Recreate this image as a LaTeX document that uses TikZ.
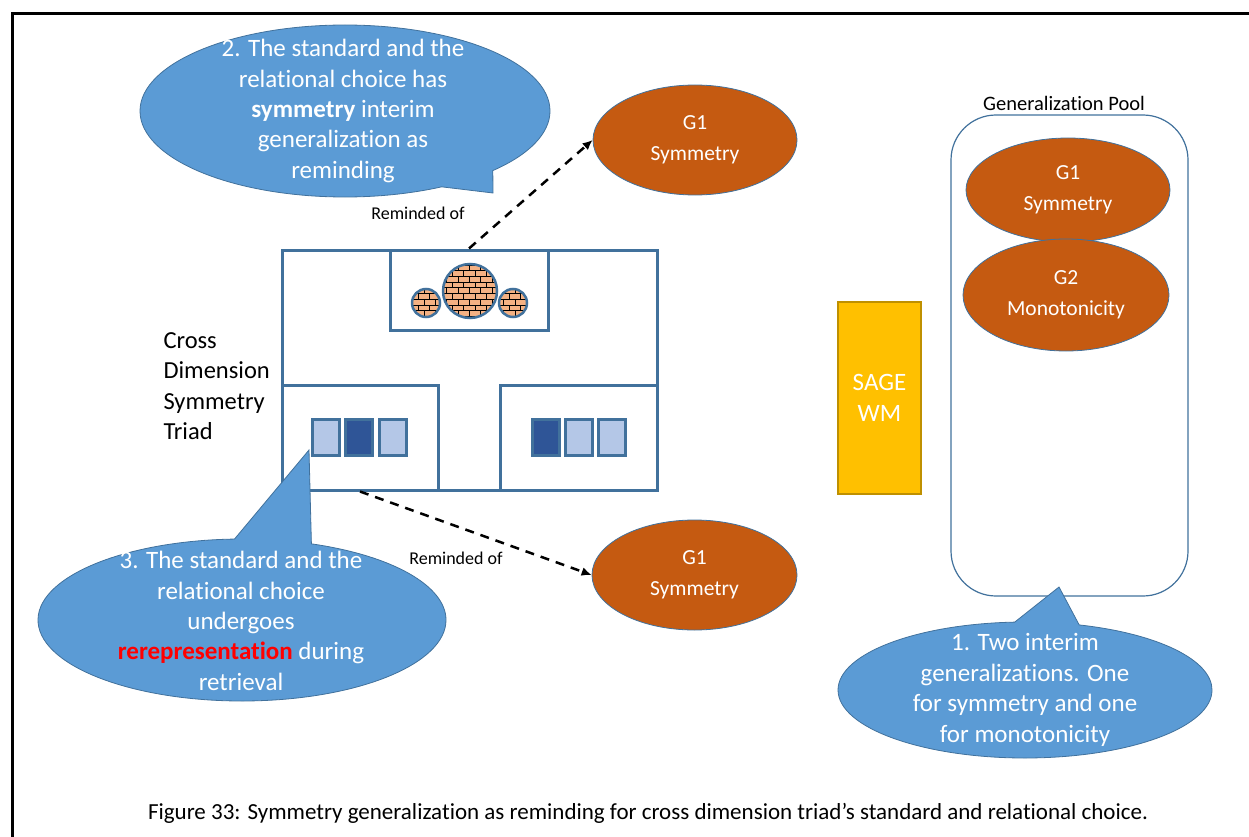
\documentclass[tikz,border=0pt]{standalone}
\usepackage{fontspec}
\setmainfont{Carlito}[Ligatures=NoCommon]
\usetikzlibrary{shapes.geometric,shapes.callouts,patterns,arrows.meta}

\definecolor{callblue}{HTML}{5B9BD5}
\definecolor{edgeblue}{HTML}{41719C}
\definecolor{rust}{HTML}{C55A11}
\definecolor{gold}{HTML}{FFC000}
\definecolor{goldedge}{HTML}{BF9000}
\definecolor{lightsq}{HTML}{B4C7E7}
\definecolor{darksq}{HTML}{2F5597}
\definecolor{brickbg}{HTML}{F4B183}

\begin{document}
\begin{tikzpicture}[x=1pt,y=-1pt,
    bubble/.style={ellipse callout, fill=callblue, draw=edgeblue, line width=0.8pt, inner sep=0pt},
    bubbletext/.style={text=white, align=center, font=\fontsize{25}{30.4}\selectfont},
    gen/.style={ellipse, fill=rust, draw=edgeblue, line width=0.8pt, inner sep=0pt, text=white, align=center, font=\fontsize{21.5}{31}\selectfont},
    triadbox/.style={draw=edgeblue, line width=3pt, inner sep=0pt},
    brick/.style={draw=edgeblue, line width=2.5pt, preaction={fill=brickbg}, pattern=bricks, pattern color=black},
    lightbox/.style={draw=edgeblue, line width=2.5pt, fill=lightsq, minimum width=27, minimum height=36, inner sep=0pt},
    darkbox/.style={lightbox, fill=darksq},
    remind/.style={line width=2.5pt, dash pattern=on 9pt off 7pt, -{Latex[length=10pt,width=9pt]}},
    lbl/.style={font=\fontsize{18}{20}\selectfont}
  ]
  \useasboundingbox (0,0) rectangle (1249,837);
  \draw[line width=3pt] (12,837) -- (12,14) -- (1249,14);

  % the triad
  \node[triadbox, minimum width=375, minimum height=240] (triad) at (469.5,370) {};
  \node[triadbox, minimum width=158, minimum height=80] (probe) at (469,290) {};
  \node[triadbox, minimum width=156, minimum height=105] (stdbox) at (360,437.5) {};
  \node[triadbox, minimum width=157, minimum height=105] (choicebox) at (578.5,437.5) {};
  \draw[brick] (470,291) circle (27);
  \draw[brick] (426,303) circle (14);
  \draw[brick] (513,303) circle (14);
  \foreach \x/\s in {326/lightbox, 359/darkbox, 393/lightbox, 546/darkbox, 579/lightbox, 612/lightbox}
    \node[\s] (sq\x) at (\x,437.5) {};
  \node[align=left, anchor=west, font=\fontsize{24.5}{30.5}\selectfont] (triadname) at (160,386) {Cross\\Dimension\\Symmetry\\Triad};

  % reminded generalizations
  \node[gen, minimum width=204, minimum height=110] (g1top) at (695,140) {G1\\Symmetry};
  \node[gen, minimum width=205, minimum height=110] (g1bot) at (694.5,575) {G1\\Symmetry};
  \draw[remind] (probe.north) -- (g1top.west);
  \draw[remind] (stdbox.south) -- (g1bot.west);
  \node[lbl] (rem1) at (418,213) {Reminded of};
  \node[lbl] (rem2) at (456,558) {Reminded of};

  % working memory and pool
  \node[draw=goldedge, fill=gold, line width=1.5pt, minimum width=83, minimum height=192, text=white, align=center, font=\fontsize{25}{31}\selectfont] (sage) at (879.5,398) {SAGE\\WM};
  \node[draw=edgeblue, rounded corners=45, line width=1.2pt, minimum width=237, minimum height=481] (pool) at (1069.5,355.5) {};
  \node[font=\fontsize{20.5}{22}\selectfont] (poolname) at (1064,103) {Generalization Pool};
  \node[gen, minimum width=204, minimum height=104] (g1pool) at (1068,190) {G1\\Symmetry};
  \node[gen, minimum width=206, minimum height=112] (g2pool) at (1066,295) {G2\\Monotonicity};

  % callouts
  \node[bubble, minimum width=410, minimum height=172, callout absolute pointer={(493,193)}, callout pointer arc=18] (note2) at (345,111) {};
  \node[bubbletext] at (343,111) {2. The standard and the\\relational choice has\\\textbf{symmetry} interim\\generalization as\\reminding};
  \node[bubble, minimum width=408, minimum height=162, callout absolute pointer={(309,450)}, callout pointer arc=22] (note3) at (242,620) {};
  \node[bubbletext] at (241,621) {3. The standard and the\\relational choice\\undergoes\\\textcolor{red}{\textbf{rerepresentation}} during\\retrieval};
  \node[bubble, minimum width=374, minimum height=136, callout absolute pointer={(1059,587)}, callout pointer arc=20] (note1) at (1025,690) {};
  \node[bubbletext] at (note1) {1. Two interim\\generalizations. One\\for symmetry and one\\for monotonicity};

  \node[font=\fontsize{23}{26}\selectfont] (caption) at (648,813) {Figure 33: Symmetry generalization as reminding for cross dimension triad’s standard and relational choice.};
\end{tikzpicture}
\end{document}
